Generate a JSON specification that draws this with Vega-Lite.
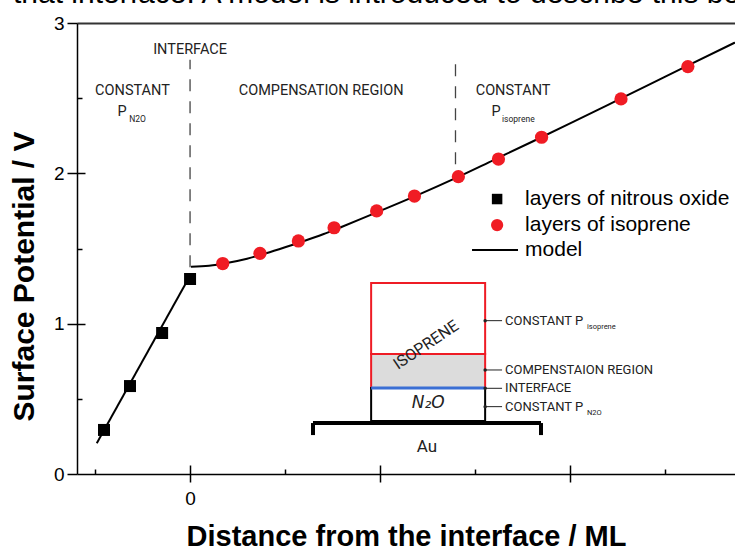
{
  "$schema": "https://vega.github.io/schema/vega-lite/v6.json",
  "width": 658,
  "height": 451,
  "autosize": {"type": "none"},
  "padding": {"left": 77, "top": 23, "right": 0, "bottom": 77},
  "background": "white",
  "resolve": {"axis": {"x": "independent", "y": "independent"}},
  "title": {
    "text": "that interface. A model is introduced to describe this behavior",
    "anchor": "start",
    "frame": "group",
    "fontSize": 30,
    "fontWeight": "normal",
    "font": "Liberation Sans",
    "color": "black",
    "baseline": "top",
    "offset": 5,
    "dx": -64
  },
  "config": {
    "view": {"stroke": null},
    "axis": {
      "grid": false,
      "domainColor": "black",
      "domainWidth": 1.5,
      "tickColor": "black",
      "tickWidth": 1.5,
      "labelColor": "black",
      "titleColor": "black",
      "labelFont": "Liberation Sans",
      "titleFont": "Liberation Sans",
      "labelFontSize": 19,
      "titleFontSize": 29,
      "titleFontWeight": "bold"
    }
  },
  "datasets": {
    "model": [
      {"segment": "n2o", "x": -4.91, "y": 0.205},
      {"segment": "n2o", "x": 0.05, "y": 1.33},
      {"segment": "iso", "x": 0.05, "y": 1.378},
      {"segment": "iso", "x": 1, "y": 1.385},
      {"segment": "iso", "x": 2, "y": 1.405},
      {"segment": "iso", "x": 3, "y": 1.432},
      {"segment": "iso", "x": 4, "y": 1.468},
      {"segment": "iso", "x": 5, "y": 1.508},
      {"segment": "iso", "x": 6, "y": 1.55},
      {"segment": "iso", "x": 7, "y": 1.595},
      {"segment": "iso", "x": 8, "y": 1.645},
      {"segment": "iso", "x": 9, "y": 1.697},
      {"segment": "iso", "x": 10, "y": 1.75},
      {"segment": "iso", "x": 12, "y": 1.857},
      {"segment": "iso", "x": 14, "y": 1.97},
      {"segment": "iso", "x": 16, "y": 2.09},
      {"segment": "iso", "x": 18, "y": 2.21},
      {"segment": "iso", "x": 20, "y": 2.332},
      {"segment": "iso", "x": 22, "y": 2.456},
      {"segment": "iso", "x": 24, "y": 2.58},
      {"segment": "iso", "x": 26, "y": 2.705},
      {"segment": "iso", "x": 28.68, "y": 2.87}
    ],
    "pts": [
      {"series": "n2o", "x": -4.53, "y": 0.293},
      {"series": "n2o", "x": -3.16, "y": 0.585},
      {"series": "n2o", "x": -1.47, "y": 0.938},
      {"series": "n2o", "x": 0.0, "y": 1.297},
      {"series": "iso", "x": 1.72, "y": 1.4},
      {"series": "iso", "x": 3.68, "y": 1.468},
      {"series": "iso", "x": 5.7, "y": 1.55},
      {"series": "iso", "x": 7.58, "y": 1.638},
      {"series": "iso", "x": 9.82, "y": 1.75},
      {"series": "iso", "x": 11.81, "y": 1.849},
      {"series": "iso", "x": 14.12, "y": 1.978},
      {"series": "iso", "x": 16.23, "y": 2.095},
      {"series": "iso", "x": 18.5, "y": 2.24},
      {"series": "iso", "x": 22.68, "y": 2.495},
      {"series": "iso", "x": 26.2, "y": 2.71}
    ],
    "dashes": [
      {"x": 0, "y": 1.375, "y2": 2.755},
      {"x": 13.97, "y": 2.06, "y2": 2.755}
    ],
    "inset": [
      {"part": "comp", "x": 9.53, "x2": 15.53, "y": 0.572, "y2": 0.798},
      {"part": "iso", "x": 9.53, "x2": 15.53, "y": 0.798, "y2": 1.271},
      {"part": "n2o", "x": 9.53, "x2": 15.53, "y": 0.353, "y2": 0.572},
      {"part": "interface", "x": 9.53, "x2": 15.53, "y": 0.572},
      {"part": "au", "x": 6.47, "x2": 18.47, "y": 0.339},
      {"part": "auend", "x": 6.47, "y": 0.339, "y2": 0.259},
      {"part": "auend", "x": 18.47, "y": 0.339, "y2": 0.259},
      {"part": "conn", "x": 15.53, "x2": 16.42, "y": 1.02},
      {"part": "conn", "x": 15.53, "x2": 16.42, "y": 0.692},
      {"part": "conn", "x": 15.53, "x2": 16.42, "y": 0.57},
      {"part": "conn", "x": 15.53, "x2": 16.42, "y": 0.448}
    ],
    "legend": [
      {"item": "layers of nitrous oxide", "sx": 16.16, "tx": 17.63, "y": 1.829},
      {"item": "layers of isoprene", "sx": 16.16, "tx": 17.63, "y": 1.656},
      {"item": "model", "sx": 14.84, "sx2": 17.26, "tx": 17.63, "y": 1.49}
    ],
    "annot": [
      {"kind": "region", "label": "INTERFACE", "x": 0, "y": 2.82},
      {"kind": "region", "label": "CONSTANT", "x": -3.03, "y": 2.548},
      {"kind": "region", "label": "COMPENSATION REGION", "x": 6.9, "y": 2.548},
      {"kind": "region", "label": "CONSTANT", "x": 17.0, "y": 2.548},
      {"kind": "region", "label": "P", "x": -3.58, "y": 2.408},
      {"kind": "region", "label": "P", "x": 16.1, "y": 2.408},
      {"kind": "regionsub", "label": "N2O", "x": -3.2, "y": 2.36},
      {"kind": "regionsub", "label": "isoprene", "x": 16.42, "y": 2.36},
      {"kind": "inlabel", "label": "CONSTANT P", "x": 16.58, "y": 1.02},
      {"kind": "inlabel", "label": "COMPENSTAION REGION", "x": 16.58, "y": 0.692},
      {"kind": "inlabel", "label": "INTERFACE", "x": 16.58, "y": 0.57},
      {"kind": "inlabel", "label": "CONSTANT P", "x": 16.58, "y": 0.448},
      {"kind": "insub", "label": "isoprene", "x": 20.89, "y": 0.975},
      {"kind": "insub", "label": "N2O", "x": 20.89, "y": 0.403},
      {"kind": "isoprene", "label": "ISOPRENE", "x": 12.42, "y": 0.858},
      {"kind": "n2o", "label": "N₂O", "x": 12.53, "y": 0.472},
      {"kind": "au", "label": "Au", "x": 12.47, "y": 0.18}
    ]
  },
  "layer": [
    {
      "data": {"name": "inset"},
      "transform": [{"filter": "datum.part === 'comp'"}],
      "mark": {"type": "rect", "fill": "#dcdcdc", "stroke": "#ee1c25", "strokeWidth": 2},
      "encoding": {
        "x": {"field": "x", "type": "quantitative", "scale": {"domain": [-5.95, 28.68], "nice": false, "zero": false}, "axis": null},
        "x2": {"field": "x2"},
        "y": {"field": "y", "type": "quantitative", "scale": {"domain": [0, 3], "nice": false, "zero": false},
              "axis": {"orient": "left", "title": "Surface Potential / V", "values": [0, 1, 2, 3],
                       "format": "d", "tickSize": 10,
                       "labelPadding": 3, "titlePadding": 14, "titleY": 253, "titleFontSize": 30, "labelOverlap": false}},
        "y2": {"field": "y2"}
      }
    },
    {
      "data": {"name": "inset"},
      "transform": [{"filter": "datum.part === 'iso'"}],
      "mark": {"type": "rect", "fill": "white", "fillOpacity": 0, "stroke": "#ee1c25", "strokeWidth": 2},
      "encoding": {
        "x": {"field": "x", "type": "quantitative", "scale": {"domain": [-5.95, 28.68], "nice": false, "zero": false}, "axis": null},
        "x2": {"field": "x2"},
        "y": {"field": "y", "type": "quantitative", "scale": {"domain": [0, 3], "nice": false, "zero": false}, "axis": null},
        "y2": {"field": "y2"}
      }
    },
    {
      "data": {"name": "inset"},
      "transform": [{"filter": "datum.part === 'n2o'"}],
      "mark": {"type": "rect", "fill": "white", "fillOpacity": 0, "stroke": "black", "strokeWidth": 2},
      "encoding": {
        "x": {"field": "x", "type": "quantitative", "scale": {"domain": [-5.95, 28.68], "nice": false, "zero": false}, "axis": null},
        "x2": {"field": "x2"},
        "y": {"field": "y", "type": "quantitative", "scale": {"domain": [0, 3], "nice": false, "zero": false}, "axis": null},
        "y2": {"field": "y2"}
      }
    },
    {
      "data": {"name": "inset"},
      "transform": [{"filter": "datum.part === 'interface'"}],
      "mark": {"type": "rule", "color": "#3b6fd4", "strokeWidth": 3},
      "encoding": {
        "x": {"field": "x", "type": "quantitative", "scale": {"domain": [-5.95, 28.68], "nice": false, "zero": false}, "axis": null},
        "x2": {"field": "x2"},
        "y": {"field": "y", "type": "quantitative", "scale": {"domain": [0, 3], "nice": false, "zero": false}, "axis": null}
      }
    },
    {
      "data": {"name": "inset"},
      "transform": [{"filter": "datum.part === 'au'"}],
      "mark": {"type": "rule", "color": "black", "strokeWidth": 4},
      "encoding": {
        "x": {"field": "x", "type": "quantitative", "scale": {"domain": [-5.95, 28.68], "nice": false, "zero": false}, "axis": null},
        "x2": {"field": "x2"},
        "y": {"field": "y", "type": "quantitative", "scale": {"domain": [0, 3], "nice": false, "zero": false}, "axis": null}
      }
    },
    {
      "data": {"name": "inset"},
      "transform": [{"filter": "datum.part === 'auend'"}],
      "mark": {"type": "rule", "color": "black", "strokeWidth": 4},
      "encoding": {
        "x": {"field": "x", "type": "quantitative", "scale": {"domain": [-5.95, 28.68], "nice": false, "zero": false}, "axis": null},
        "y": {"field": "y", "type": "quantitative", "scale": {"domain": [0, 3], "nice": false, "zero": false}, "axis": null},
        "y2": {"field": "y2"}
      }
    },
    {
      "data": {"name": "inset"},
      "transform": [{"filter": "datum.part === 'conn'"}],
      "mark": {"type": "rule", "color": "#222", "strokeWidth": 1},
      "encoding": {
        "x": {"field": "x", "type": "quantitative", "scale": {"domain": [-5.95, 28.68], "nice": false, "zero": false}, "axis": null},
        "x2": {"field": "x2"},
        "y": {"field": "y", "type": "quantitative", "scale": {"domain": [0, 3], "nice": false, "zero": false}, "axis": null}
      }
    },
    {
      "data": {"name": "inset"},
      "transform": [{"filter": "datum.part === 'conn'"}],
      "mark": {"type": "point", "shape": "circle", "filled": true, "color": "#222", "size": 12, "opacity": 1},
      "encoding": {
        "x": {"field": "x", "type": "quantitative", "scale": {"domain": [-5.95, 28.68], "nice": false, "zero": false}, "axis": null},
        "y": {"field": "y", "type": "quantitative", "scale": {"domain": [0, 3], "nice": false, "zero": false}, "axis": null}
      }
    },
    {
      "data": {"name": "dashes"},
      "mark": {"type": "rule", "color": "#444", "strokeWidth": 1.3, "strokeDash": [12, 10]},
      "encoding": {
        "x": {"field": "x", "type": "quantitative", "scale": {"domain": [-5.95, 28.68], "nice": false, "zero": false},
              "axis": {"orient": "top", "labels": false, "ticks": false, "title": null, "domainColor": "#333", "domainWidth": 2}},
        "y": {"field": "y", "type": "quantitative", "scale": {"domain": [0, 3], "nice": false, "zero": false}, "axis": null},
        "y2": {"field": "y2"}
      }
    },
    {
      "data": {"name": "model"},
      "mark": {"type": "line", "color": "black", "strokeWidth": 2, "interpolate": "monotone"},
      "encoding": {
        "x": {"field": "x", "type": "quantitative", "scale": {"domain": [-5.95, 28.68], "nice": false, "zero": false},
              "axis": {"orient": "bottom", "title": "Distance from the interface / ML", "values": [0, 10, 20],
                       "labelExpr": "datum.value === 0 ? '0' : ''",
                       "tickSize": 8, "labelPadding": 7, "titlePadding": 14, "labelOverlap": false}},
        "y": {"field": "y", "type": "quantitative", "scale": {"domain": [0, 3], "nice": false, "zero": false}, "axis": null},
        "detail": {"field": "segment"}
      }
    },
    {
      "data": {"name": "pts"},
      "transform": [{"filter": "datum.series === 'n2o'"}],
      "mark": {"type": "point", "shape": "square", "filled": true, "color": "black", "size": 144, "opacity": 1},
      "encoding": {
        "x": {"field": "x", "type": "quantitative", "scale": {"domain": [-5.95, 28.68], "nice": false, "zero": false},
              "axis": {"orient": "bottom", "values": [-5, 5, 15, 25], "offset": -5, "tickSize": 5, "domain": false, "labels": false, "title": null}},
        "y": {"field": "y", "type": "quantitative", "scale": {"domain": [0, 3], "nice": false, "zero": false},
              "axis": {"orient": "left", "values": [0.5, 1.5, 2.5], "offset": -5, "tickSize": 5, "domain": false, "labels": false, "title": null}}
      }
    },
    {
      "data": {"name": "pts"},
      "transform": [{"filter": "datum.series === 'iso'"}],
      "mark": {"type": "point", "shape": "circle", "filled": true, "color": "#f01c24", "size": 175, "opacity": 1},
      "encoding": {
        "x": {"field": "x", "type": "quantitative", "scale": {"domain": [-5.95, 28.68], "nice": false, "zero": false},
              "axis": {"orient": "bottom", "values": [0, 10, 20], "offset": -9, "tickSize": 9, "domain": false, "labels": false, "title": null}},
        "y": {"field": "y", "type": "quantitative", "scale": {"domain": [0, 3], "nice": false, "zero": false},
              "axis": {"orient": "left", "values": [1, 2], "offset": -8, "tickSize": 8, "domain": false, "labels": false, "title": null}}
      }
    },
    {
      "data": {"name": "legend"},
      "transform": [{"filter": "datum.item === 'layers of nitrous oxide'"}],
      "mark": {"type": "point", "shape": "square", "filled": true, "color": "black", "size": 110, "opacity": 1},
      "encoding": {
        "x": {"field": "sx", "type": "quantitative", "scale": {"domain": [-5.95, 28.68], "nice": false, "zero": false}, "axis": null},
        "y": {"field": "y", "type": "quantitative", "scale": {"domain": [0, 3], "nice": false, "zero": false}, "axis": null}
      }
    },
    {
      "data": {"name": "legend"},
      "transform": [{"filter": "datum.item === 'layers of isoprene'"}],
      "mark": {"type": "point", "shape": "circle", "filled": true, "color": "#f01c24", "size": 150, "opacity": 1},
      "encoding": {
        "x": {"field": "sx", "type": "quantitative", "scale": {"domain": [-5.95, 28.68], "nice": false, "zero": false}, "axis": null},
        "y": {"field": "y", "type": "quantitative", "scale": {"domain": [0, 3], "nice": false, "zero": false}, "axis": null}
      }
    },
    {
      "data": {"name": "legend"},
      "transform": [{"filter": "datum.item === 'model'"}],
      "mark": {"type": "rule", "color": "black", "strokeWidth": 2},
      "encoding": {
        "x": {"field": "sx", "type": "quantitative", "scale": {"domain": [-5.95, 28.68], "nice": false, "zero": false}, "axis": null},
        "x2": {"field": "sx2"},
        "y": {"field": "y", "type": "quantitative", "scale": {"domain": [0, 3], "nice": false, "zero": false}, "axis": null}
      }
    },
    {
      "data": {"name": "legend"},
      "mark": {"type": "text", "align": "left", "baseline": "middle", "font": "Liberation Sans", "fontSize": 21, "color": "black"},
      "encoding": {
        "x": {"field": "tx", "type": "quantitative", "scale": {"domain": [-5.95, 28.68], "nice": false, "zero": false}, "axis": null},
        "y": {"field": "y", "type": "quantitative", "scale": {"domain": [0, 3], "nice": false, "zero": false}, "axis": null},
        "text": {"field": "item"}
      }
    },
    {
      "data": {"name": "annot"},
      "transform": [{"filter": "datum.kind === 'region'"}],
      "mark": {"type": "text", "align": "center", "baseline": "middle", "font": "Roboto", "fontSize": 14.5, "color": "#222"},
      "encoding": {
        "x": {"field": "x", "type": "quantitative", "scale": {"domain": [-5.95, 28.68], "nice": false, "zero": false}, "axis": null},
        "y": {"field": "y", "type": "quantitative", "scale": {"domain": [0, 3], "nice": false, "zero": false}, "axis": null},
        "text": {"field": "label"}
      }
    },
    {
      "data": {"name": "annot"},
      "transform": [{"filter": "datum.kind === 'regionsub'"}],
      "mark": {"type": "text", "align": "left", "baseline": "middle", "font": "Roboto", "fontSize": 8.5, "color": "#222"},
      "encoding": {
        "x": {"field": "x", "type": "quantitative", "scale": {"domain": [-5.95, 28.68], "nice": false, "zero": false}, "axis": null},
        "y": {"field": "y", "type": "quantitative", "scale": {"domain": [0, 3], "nice": false, "zero": false}, "axis": null},
        "text": {"field": "label"}
      }
    },
    {
      "data": {"name": "annot"},
      "transform": [{"filter": "datum.kind === 'inlabel'"}],
      "mark": {"type": "text", "align": "left", "baseline": "middle", "font": "Roboto", "fontSize": 13, "color": "#222"},
      "encoding": {
        "x": {"field": "x", "type": "quantitative", "scale": {"domain": [-5.95, 28.68], "nice": false, "zero": false}, "axis": null},
        "y": {"field": "y", "type": "quantitative", "scale": {"domain": [0, 3], "nice": false, "zero": false}, "axis": null},
        "text": {"field": "label"}
      }
    },
    {
      "data": {"name": "annot"},
      "transform": [{"filter": "datum.kind === 'insub'"}],
      "mark": {"type": "text", "align": "left", "baseline": "middle", "font": "Roboto", "fontSize": 7.5, "color": "#222"},
      "encoding": {
        "x": {"field": "x", "type": "quantitative", "scale": {"domain": [-5.95, 28.68], "nice": false, "zero": false}, "axis": null},
        "y": {"field": "y", "type": "quantitative", "scale": {"domain": [0, 3], "nice": false, "zero": false}, "axis": null},
        "text": {"field": "label"}
      }
    },
    {
      "data": {"name": "annot"},
      "transform": [{"filter": "datum.kind === 'isoprene'"}],
      "mark": {"type": "text", "align": "center", "baseline": "middle", "font": "Roboto", "fontSize": 16, "angle": 326, "color": "#222"},
      "encoding": {
        "x": {"field": "x", "type": "quantitative", "scale": {"domain": [-5.95, 28.68], "nice": false, "zero": false}, "axis": null},
        "y": {"field": "y", "type": "quantitative", "scale": {"domain": [0, 3], "nice": false, "zero": false}, "axis": null},
        "text": {"field": "label"}
      }
    },
    {
      "data": {"name": "annot"},
      "transform": [{"filter": "datum.kind === 'n2o'"}],
      "mark": {"type": "text", "align": "center", "baseline": "middle", "font": "DejaVu Sans", "fontStyle": "italic", "fontSize": 17, "color": "#222"},
      "encoding": {
        "x": {"field": "x", "type": "quantitative", "scale": {"domain": [-5.95, 28.68], "nice": false, "zero": false}, "axis": null},
        "y": {"field": "y", "type": "quantitative", "scale": {"domain": [0, 3], "nice": false, "zero": false}, "axis": null},
        "text": {"field": "label"}
      }
    },
    {
      "data": {"name": "annot"},
      "transform": [{"filter": "datum.kind === 'au'"}],
      "mark": {"type": "text", "align": "center", "baseline": "middle", "font": "Roboto", "fontSize": 17, "color": "#222"},
      "encoding": {
        "x": {"field": "x", "type": "quantitative", "scale": {"domain": [-5.95, 28.68], "nice": false, "zero": false}, "axis": null},
        "y": {"field": "y", "type": "quantitative", "scale": {"domain": [0, 3], "nice": false, "zero": false}, "axis": null},
        "text": {"field": "label"}
      }
    }
  ]
}
